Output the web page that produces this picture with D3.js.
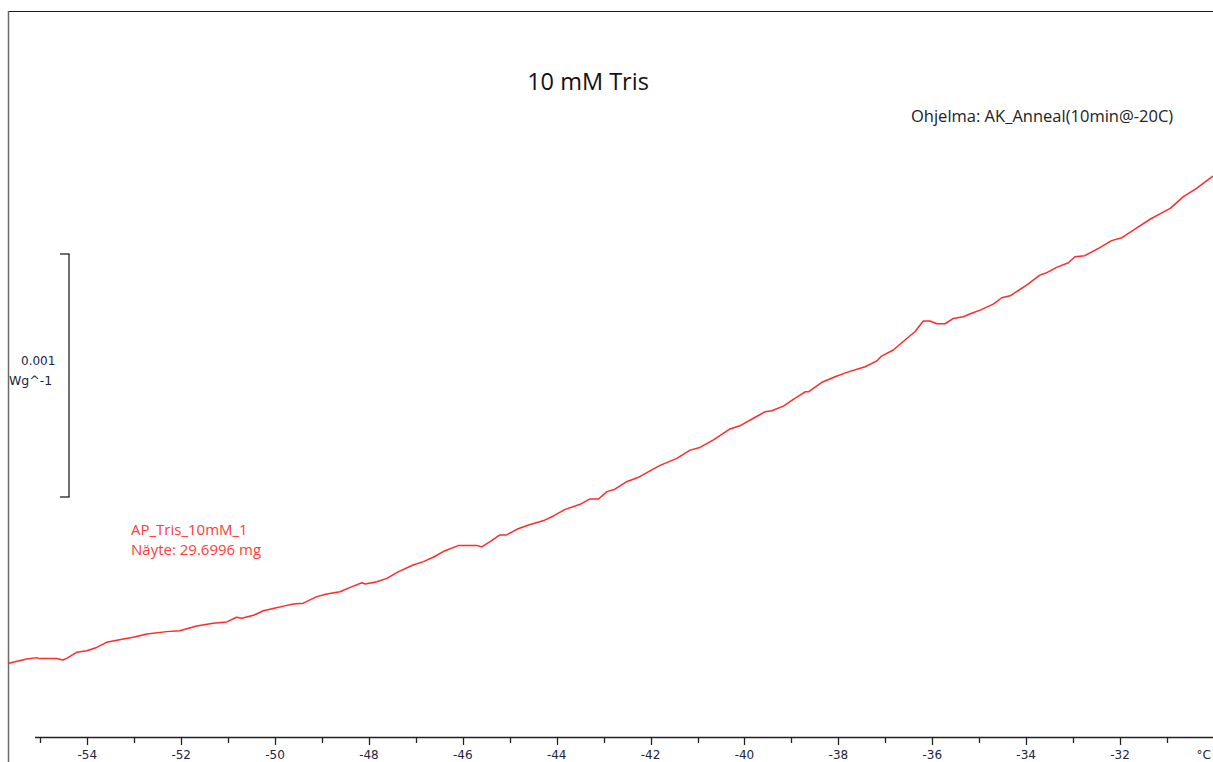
<!DOCTYPE html>
<html>
<head>
<meta charset="utf-8">
<script src="https://cdn.jsdelivr.net/npm/d3@7/dist/d3.min.js"></script>
<style>
  html, body { margin: 0; padding: 0; background: #fff; overflow: hidden; }
  svg { display: block; }
</style>
</head>
<body>
<svg id="chart" width="1213" height="762"></svg>
<script>
// DSC heating trace, 10 mM Tris sample: temperature (°C) and heat flow (mW/g)
const temperature = [
  -55.69, -55.54, -55.29, -55.08, -55.01, -54.65, -54.52, -54.44, -54.23, -54.01,
  -53.80, -53.59, -53.23, -53.02, -52.73, -52.31, -52.03, -51.67, -51.32, -51.03,
  -50.82, -50.71, -50.46, -50.25, -49.97, -49.82, -49.61, -49.40, -49.11, -48.90,
  -48.62, -48.40, -48.15, -48.08, -47.83, -47.62, -47.37, -47.06, -46.84, -46.63,
  -46.38, -46.10, -45.70, -45.60, -45.42, -45.21, -45.07, -44.85, -44.60, -44.29,
  -44.07, -43.82, -43.50, -43.29, -43.11, -42.93, -42.76, -42.51, -42.26, -42.08,
  -41.80, -41.44, -41.16, -40.95, -40.66, -40.31, -40.10, -39.81, -39.56, -39.42,
  -39.17, -38.96, -38.71, -38.64, -38.35, -38.07, -37.82, -37.43, -37.18, -37.08,
  -36.83, -36.58, -36.37, -36.19, -36.05, -35.90, -35.73, -35.55, -35.34, -35.16,
  -34.98, -34.70, -34.52, -34.34, -33.99, -33.70, -33.56, -33.35, -33.10, -32.96,
  -32.75, -32.43, -32.18, -31.96, -31.61, -31.36, -31.15, -30.93, -30.65, -30.37,
  -30.05, -29.87
];
const heatFlow = [
  -14.006, -13.999, -13.988, -13.982, -13.986, -13.986, -13.992, -13.985, -13.960, -13.954,
  -13.940, -13.919, -13.905, -13.898, -13.885, -13.875, -13.871, -13.852, -13.841, -13.835,
  -13.816, -13.820, -13.808, -13.789, -13.777, -13.770, -13.761, -13.758, -13.731, -13.720,
  -13.711, -13.693, -13.674, -13.679, -13.670, -13.656, -13.628, -13.601, -13.587, -13.569,
  -13.542, -13.521, -13.521, -13.526, -13.505, -13.477, -13.477, -13.454, -13.436, -13.419,
  -13.399, -13.372, -13.351, -13.329, -13.329, -13.299, -13.289, -13.258, -13.240, -13.221,
  -13.191, -13.162, -13.128, -13.117, -13.086, -13.041, -13.028, -12.997, -12.970, -12.966,
  -12.947, -12.919, -12.888, -12.888, -12.849, -12.826, -12.808, -12.785, -12.761, -12.741,
  -12.716, -12.675, -12.641, -12.597, -12.597, -12.608, -12.608, -12.586, -12.579, -12.565,
  -12.552, -12.527, -12.501, -12.493, -12.449, -12.407, -12.398, -12.376, -12.357, -12.332,
  -12.328, -12.295, -12.266, -12.254, -12.209, -12.178, -12.156, -12.133, -12.085, -12.051,
  -12.005, -11.979
];

// Axis ticks: every degree, labelled on even degrees
const tickValues = d3.range(-55, -30, 1);
const labelValues = [-54, -52, -50, -48, -46, -44, -42, -40, -38, -36, -34, -32];

// Texts
const titleText = "10 mM Tris";
const methodText = "Ohjelma: AK_Anneal(10min@-20C)";
const sampleLines = ["AP_Tris_10mM_1", "Näyte: 29.6996 mg"];
const scaleBarValue = 1;          // mW/g
const scaleBarBase = -13.321;     // mW/g, lower end of the scale bar
const scaleBarLabel = ["0.001", "Wg^-1"];
const unitLabel = "°C";

const svg = d3.select("#chart");
const W = 1213, H = 762;

const x = d3.scaleLinear().domain([-54, -32]).range([87.3, 1120]);
const y = d3.scaleLinear().domain([-14, -12]).range([662, 176]);

const axisY = 737;
const smallFont = "DejaVu Sans, Verdana, sans-serif";
const textFont = "Open Sans, sans-serif";

// Frame: top and left edges
svg.append("line")
  .attr("x1", 8).attr("x2", W).attr("y1", 11.5).attr("y2", 11.5)
  .attr("stroke", "#1a1a1a").attr("stroke-width", 1.2);
svg.append("line")
  .attr("x1", 8.5).attr("x2", 8.5).attr("y1", 11).attr("y2", H)
  .attr("stroke", "#6a6a6a").attr("stroke-width", 1.5);

// Bottom temperature axis
const axisG = svg.append("g").attr("transform", `translate(0,${axisY})`);
axisG.append("line")
  .attr("x1", 35).attr("x2", W).attr("y1", 0.5).attr("y2", 0.5)
  .attr("stroke", "#222").attr("stroke-width", 1.3);
axisG.selectAll("line.tick")
  .data(tickValues)
  .join("line")
  .attr("class", "tick")
  .attr("x1", d => Math.round(x(d)) + 0.5)
  .attr("x2", d => Math.round(x(d)) + 0.5)
  .attr("y1", 0)
  .attr("y2", d => (d % 2 === 0 ? 8 : 6))
  .attr("stroke", "#222").attr("stroke-width", 1.3);
axisG.selectAll("text.lab")
  .data(labelValues)
  .join("text")
  .attr("class", "lab")
  .attr("x", d => x(d))
  .attr("y", 22)
  .attr("text-anchor", "middle")
  .attr("font-family", smallFont)
  .attr("font-size", 12)
  .attr("fill", "#1c2440")
  .text(d => d);
axisG.append("text")
  .attr("x", 1211)
  .attr("y", 22)
  .attr("text-anchor", "end")
  .attr("font-family", smallFont)
  .attr("font-size", 12)
  .attr("fill", "#1c2440")
  .text(unitLabel);

// Heat flow curve
const pts = temperature.map((t, i) => [t, heatFlow[i]]);
const line = d3.line().x(d => x(d[0])).y(d => y(d[1])).curve(d3.curveLinear);
svg.append("path")
  .datum(pts)
  .attr("d", line)
  .attr("fill", "none")
  .attr("stroke", "#ff2a2a")
  .attr("stroke-width", 1.5)
  .attr("stroke-linejoin", "round");

// Scale bar for the heat-flow axis
const sbX = 69;
const sbTop = y(scaleBarBase + scaleBarValue);
const sbBot = y(scaleBarBase);
const sb = svg.append("g").attr("stroke", "#222").attr("stroke-width", 1.3).attr("fill", "none");
sb.append("line").attr("x1", sbX).attr("x2", sbX).attr("y1", sbTop).attr("y2", sbBot);
sb.append("line").attr("x1", sbX - 9).attr("x2", sbX + 0.6).attr("y1", sbTop).attr("y2", sbTop);
sb.append("line").attr("x1", sbX - 9).attr("x2", sbX + 0.6).attr("y1", sbBot).attr("y2", sbBot);
svg.append("text")
  .attr("x", 21).attr("y", 365)
  .attr("font-family", smallFont)
  .attr("font-size", 12)
  .attr("fill", "#1c2440")
  .text(scaleBarLabel[0]);
svg.append("text")
  .attr("x", 9).attr("y", 385)
  .attr("font-family", smallFont)
  .attr("font-size", 12.5)
  .attr("fill", "#1c2440")
  .text(scaleBarLabel[1]);

// Title and method
svg.append("text")
  .attr("x", 588).attr("y", 90)
  .attr("text-anchor", "middle")
  .attr("font-family", textFont)
  .attr("font-size", 23.5)
  .attr("fill", "#111")
  .text(titleText);
svg.append("text")
  .attr("x", 911).attr("y", 122)
  .attr("font-family", textFont)
  .attr("font-size", 16.5)
  .attr("fill", "#222")
  .text(methodText);

// Sample annotation
svg.selectAll("text.sample")
  .data(sampleLines)
  .join("text")
  .attr("class", "sample")
  .attr("x", 131)
  .attr("y", (d, i) => 535 + i * 20)
  .attr("font-family", textFont)
  .attr("font-size", 15)
  .attr("fill", "#ff3b3b")
  .text(d => d);
</script>
</body>
</html>
